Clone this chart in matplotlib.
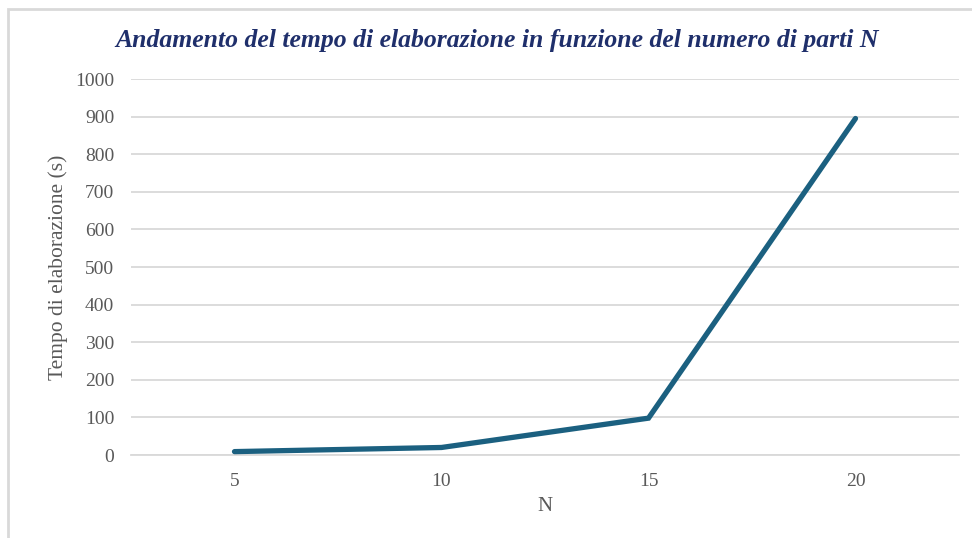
import matplotlib
matplotlib.use("Agg")
import matplotlib.pyplot as plt
from matplotlib.patches import Rectangle

categories = ["5", "10", "15", "20"]
tempo = [9, 20, 98, 895]
yticks = [0, 100, 200, 300, 400, 500, 600, 700, 800, 900, 1000]

fig = plt.figure(figsize=(9.72, 5.38), dpi=100)
# outer chart border (cropped at right/bottom)
fig.patches.append(Rectangle((8/972, -0.1), 1.2, 1 - 9/538 + 0.1, transform=fig.transFigure,
                             fill=False, edgecolor="#D9D9D9", linewidth=2))

ax = fig.add_axes([131/972, 1 - 455/538, (959 - 131)/972, (455 - 79)/538])
x = list(range(len(categories)))
ax.plot(x, tempo, color="#1B6080", linewidth=3.8, solid_capstyle="round", solid_joinstyle="miter", zorder=3)
ax.set_xlim(-0.5, len(categories) - 0.5)
ax.set_ylim(0, 1000)
ax.set_yticks(yticks)
ax.set_xticks(x)
ax.set_xticklabels(categories)
ax.grid(axis="y", color="#D9D9D9", linewidth=1.3)
ax.set_axisbelow(True)
for s in ["top", "right", "left"]:
    ax.spines[s].set_visible(False)
ax.spines["bottom"].set_color("#D9D9D9")
ax.spines["bottom"].set_linewidth(1.3)
ax.tick_params(length=0, labelsize=14, labelcolor="#595959")
ax.tick_params(axis="y", pad=12)
ax.tick_params(axis="x", pad=13)
for lab in ax.get_xticklabels() + ax.get_yticklabels():
    lab.set_fontfamily("Liberation Serif")

ax.set_xlabel("N", fontfamily="Liberation Serif", fontsize=15, color="#595959", labelpad=5)
ax.set_ylabel("Tempo di elaborazione (s)", fontfamily="Liberation Serif", fontsize=15.5,
              color="#595959", labelpad=5)
fig.text(497/972, 1 - 40/538, "Andamento del tempo di elaborazione in funzione del numero di parti N",
         fontfamily="Liberation Serif", fontweight="bold", fontstyle="italic", fontsize=18.5,
         color="#1F2F6B", ha="center", va="center")

fig.savefig("out.png", dpi=100)
